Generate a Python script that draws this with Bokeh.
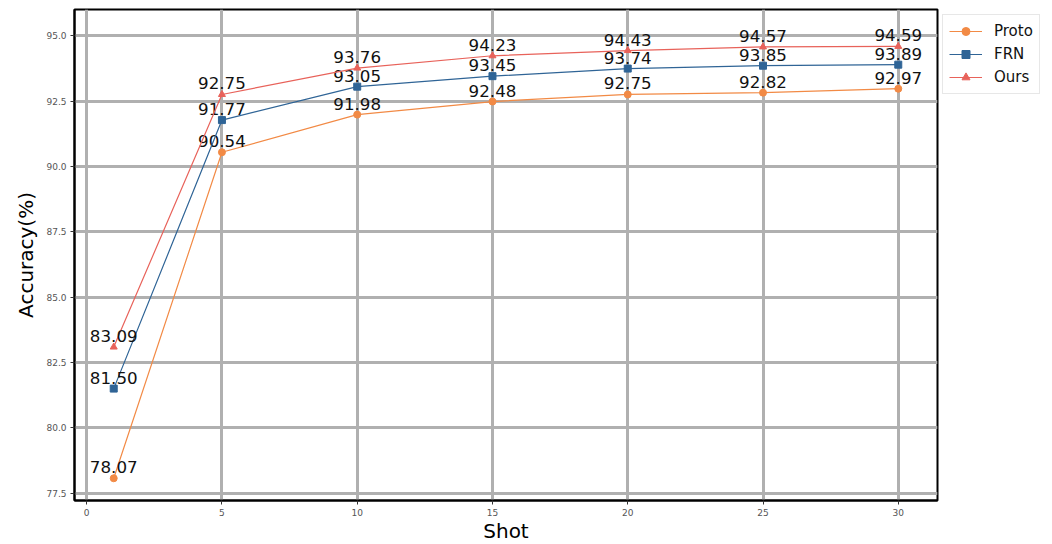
from bokeh.plotting import figure
from bokeh.models import Range1d, Legend, LegendItem, FixedTicker, ColumnDataSource, CustomJSTickFormatter
from bokeh.embed import file_html
from bokeh.resources import INLINE
from bokeh.core.properties import value

shots = [1, 5, 10, 15, 20, 25, 30]
proto = [78.07, 90.54, 91.98, 92.48, 92.75, 92.82, 92.97]
frn = [81.50, 91.77, 93.05, 93.45, 93.74, 93.85, 93.89]
ours = [83.09, 92.75, 93.76, 94.23, 94.43, 94.57, 94.59]
names = ["Proto", "FRN", "Ours"]
x_ticks = [0, 5, 10, 15, 20, 25, 30]
y_ticks = [77.5, 80.0, 82.5, 85.0, 87.5, 90.0, 92.5, 95.0]

colors = ["#F28A45", "#2F6496", "#E8625A"]
markers = ["circle", "square", "triangle"]
FONT = "DejaVu Sans"

p = figure(frame_width=863, frame_height=491, output_backend="svg", toolbar_location=None,
           x_range=Range1d(-0.45, 31.45), y_range=Range1d(77.22, 96.0),
           min_border_left=74, min_border_right=0, min_border_top=9, min_border_bottom=40)
p.background_fill_color = "white"
p.outline_line_color = "black"
p.outline_line_width = 2

for ax in (p.xaxis[0], p.yaxis[0]):
    ax.axis_line_color = "black"
    ax.axis_line_width = 2
    ax.major_tick_line_color = "#333333"
    ax.major_tick_out = 4
    ax.major_tick_in = 0
    ax.minor_tick_line_color = None
    ax.major_label_text_font = FONT
    ax.major_label_text_font_size = "9px"
    ax.major_label_text_color = "#555555"
    ax.axis_label_text_font = FONT
    ax.axis_label_text_font_size = "20px"
    ax.axis_label_text_font_style = "normal"
    ax.axis_label_text_color = "black"
    ax.major_label_standoff = 4
p.xaxis.axis_label_standoff = 0
p.yaxis.axis_label_standoff = 5

p.xaxis.ticker = FixedTicker(ticks=x_ticks)
p.yaxis.ticker = FixedTicker(ticks=y_ticks)
p.xaxis.axis_label = "Shot"
p.yaxis.axis_label = "Accuracy(%)"
p.yaxis.formatter = CustomJSTickFormatter(code="return tick.toFixed(1);")

for g in (p.xgrid[0], p.ygrid[0]):
    g.grid_line_color = "#b0b0b0"
    g.grid_line_width = 3

items = []
for name, ys, c, m in zip(names, [proto, frn, ours], colors, markers):
    src = ColumnDataSource(dict(x=shots, y=ys, lab=["%.2f" % v for v in ys]))
    r1 = p.line("x", "y", source=src, line_color=c, line_width=1.2)
    r2 = p.scatter("x", "y", source=src, marker=m, size=7, fill_color=c, line_color=c)
    p.text("x", "y", text="lab", source=src, text_font=value(FONT), text_font_size="16.7px",
           text_align="center", text_baseline="bottom", text_color="#111111", y_offset=-5)
    items.append(LegendItem(label=name, renderers=[r1, r2]))

legend = Legend(items=items, location="top_left", margin=5)
legend.label_text_font = FONT
legend.label_text_font_size = "15px"
legend.label_text_color = "#111111"
legend.border_line_color = "#d0d0d0"
legend.border_line_width = 1
legend.glyph_width = 33
legend.glyph_height = 20
legend.label_standoff = 12
legend.spacing = 3
legend.padding = 6
p.add_layout(legend, "right")

open("out.html", "w").write(file_html(p, INLINE))
